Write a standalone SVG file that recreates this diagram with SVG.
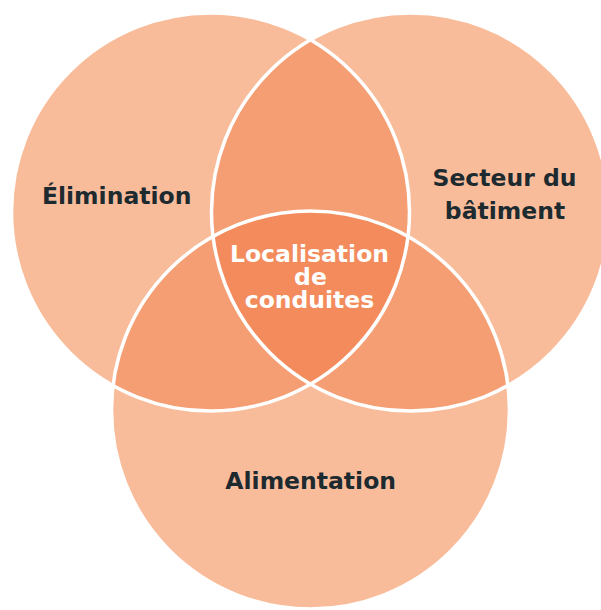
<svg xmlns="http://www.w3.org/2000/svg" width="601" height="610" viewBox="0 0 601 610">
  <style>
    .set { fill: #F9BC9A; }
    .pair { fill: #F69E73; }
    .triple { fill: #F38B5C; }
    .ring { fill: none; stroke: #FFFFFF; stroke-width: 3.5; }
    .lbl { font-family: "DejaVu Sans", "Liberation Sans", sans-serif; font-weight: bold; font-size: 23.5px; text-anchor: middle; fill: #1D2A2F; }
    .ctr { fill: #FFFFFF; }
  </style>
  <defs>
    <circle id="cL" cx="210.5" cy="212" r="199"/>
    <circle id="cR" cx="410.5" cy="212" r="199"/>
    <circle id="cB" cx="310.5" cy="410" r="199"/>
    <clipPath id="clipL"><use href="#cL"/></clipPath>
    <clipPath id="clipR"><use href="#cR"/></clipPath>
    <clipPath id="clipB"><use href="#cB"/></clipPath>
  </defs>

  <g id="sets">
    <use href="#cL" class="set"/>
    <use href="#cR" class="set"/>
    <use href="#cB" class="set"/>
  </g>

  <g id="overlaps">
    <g clip-path="url(#clipL)"><use href="#cR" class="pair"/></g>
    <g clip-path="url(#clipL)"><use href="#cB" class="pair"/></g>
    <g clip-path="url(#clipR)"><use href="#cB" class="pair"/></g>
    <g clip-path="url(#clipL)"><g clip-path="url(#clipR)"><use href="#cB" class="triple"/></g></g>
  </g>

  <g id="outlines">
    <use href="#cL" class="ring"/>
    <use href="#cR" class="ring"/>
    <use href="#cB" class="ring"/>
  </g>

  <g id="connectors"></g>

  <g id="node-elimination">
    <text class="lbl" x="116.7" y="204">Élimination</text>
  </g>
  <g id="node-secteur">
    <text class="lbl" x="504.5" y="186">Secteur du</text>
    <text class="lbl" x="505" y="219">bâtiment</text>
  </g>
  <g id="node-alimentation">
    <text class="lbl" x="310.7" y="489">Alimentation</text>
  </g>
  <g id="node-localisation">
    <text class="lbl ctr" x="309.5" y="261.5">Localisation</text>
    <text class="lbl ctr" x="310.5" y="285">de</text>
    <text class="lbl ctr" x="309.5" y="307.5">conduites</text>
  </g>
</svg>
